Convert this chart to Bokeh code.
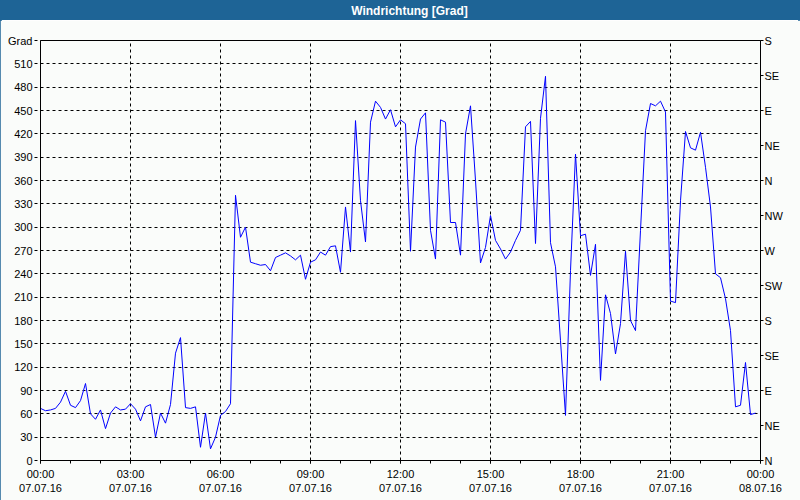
from bokeh.plotting import figure
from bokeh.layouts import column
from bokeh.models import (FixedTicker, LinearAxis, ColumnDataSource, Range1d)
from bokeh.core.properties import value
from bokeh.embed import file_html
from bokeh.resources import INLINE

# ---- data ----
title_text = "Windrichtung [Grad]"
y_unit = "Grad"
start_hour = 0.0
step_minutes = 10
wind_dir = [
    67, 64, 65, 67, 75, 89, 71, 68, 77, 99, 60, 53, 65, 41, 61, 69, 65, 66,
    73, 66, 51, 69, 72, 30, 61, 48, 72, 138, 158, 68, 67, 69, 17, 61, 15, 30,
    58, 63, 73, 341, 287, 300, 255, 253, 251, 252, 244, 261, 264, 267, 263, 258,
    264, 233, 255, 258, 268, 264, 275, 276, 242, 326, 268, 437, 334, 281, 435, 462,
    454, 439, 451, 429, 438, 433, 269, 403, 439, 447, 296, 259, 438, 435, 306, 306,
    264, 420, 456, 360, 254, 274, 315, 283, 272, 259, 268, 283, 296, 429, 436, 279,
    440, 494, 280, 249, 154, 58, 244, 394, 289, 291, 238, 278, 103, 213, 189, 137,
    176, 269, 180, 167, 296, 424, 459, 456, 462, 448, 205, 203, 334, 423, 402, 399,
    422, 377, 326, 240, 235, 208, 167, 69, 71, 126, 59, 61,
]
x_ticks = [0, 3, 6, 9, 12, 15, 18, 21, 24]
x_labels = ["00:00\n07.07.16", "03:00\n07.07.16", "06:00\n07.07.16", "09:00\n07.07.16",
            "12:00\n07.07.16", "15:00\n07.07.16", "18:00\n07.07.16", "21:00\n07.07.16",
            "00:00\n08.07.16"]
left_ticks = list(range(0, 511, 30))
right_ticks = list(range(0, 541, 45))
right_labels = ["N", "NE", "E", "SE", "S", "SW", "W", "NW", "N", "NE", "E", "SE", "S"]
y_max = 540

hours = [start_hour + i * step_minutes / 60.0 for i in range(len(wind_dir))]
src = ColumnDataSource(dict(x=hours, y=wind_dir))

BG = "#fafcfa"
BLUE_BAR = "#1e6496"
FONT = "Liberation Sans"
W = 800

# ---- title bar ----
tb = figure(width=W, height=20, output_backend="svg", toolbar_location=None,
            x_range=Range1d(0, W), y_range=Range1d(0, 20),
            min_border=0, x_axis_location=None, y_axis_location=None)
if "frame_align" in tb.properties():
    tb.frame_align = False
tb.background_fill_color = BLUE_BAR
tb.border_fill_color = BLUE_BAR
tb.outline_line_color = None
tb.grid.visible = False
tb.text(x=[409], y=[10], text=[title_text], text_align="center", text_baseline="middle",
        text_color="white", text_font=value(FONT), text_font_size="12px",
        text_font_style="bold")

# ---- main chart ----
p = figure(width=W, height=480, output_backend="svg", toolbar_location=None,
           x_range=Range1d(0, 24), y_range=Range1d(0, y_max),
           min_border_left=40, min_border_right=40, min_border_top=20, min_border_bottom=40,
           x_axis_location=None, y_axis_location=None)
if "frame_align" in p.properties():
    p.frame_align = False
p.background_fill_color = BG
p.border_fill_color = BG
p.outline_line_color = "black"
p.outline_line_width = 1

p.line("x", "y", source=src, line_color="#0000ff", line_width=1)

xa = LinearAxis(ticker=FixedTicker(ticks=x_ticks, minor_ticks=list(range(25))))
xa.major_label_overrides = {t: l for t, l in zip(x_ticks, x_labels)}
ya = LinearAxis(ticker=FixedTicker(ticks=left_ticks + [y_max]))
ya.major_label_overrides = {y_max: y_unit}
yr = LinearAxis(ticker=FixedTicker(ticks=right_ticks))
yr.major_label_overrides = {t: l for t, l in zip(right_ticks, right_labels)}
for ax in (xa, ya, yr):
    ax.axis_line_color = "black"
    ax.major_tick_line_color = "black"
    ax.minor_tick_line_color = "black"
    ax.major_tick_in = 0
    ax.minor_tick_in = 0
    ax.major_label_text_font = FONT
    ax.major_label_text_font_size = "11px"
    ax.major_label_text_color = "black"
xa.major_tick_out = 3
xa.minor_tick_out = 3
xa.major_label_standoff = 4
ya.major_tick_out = 6
ya.minor_tick_out = 0
ya.major_label_standoff = 2
ya.major_tick_line_dash = "3 3"
yr.major_tick_out = 3
yr.minor_tick_out = 0
yr.major_label_standoff = 1
p.add_layout(xa, "below")
p.add_layout(ya, "left")
p.add_layout(yr, "right")

p.xgrid.ticker = FixedTicker(ticks=x_ticks)
p.ygrid.ticker = FixedTicker(ticks=left_ticks)
for g in (p.xgrid, p.ygrid):
    g.grid_line_color = "black"
    g.grid_line_dash = "3 3"
    g.grid_line_width = 1

layout = column(tb, p, spacing=0,
                styles={"outline": "2px solid " + BLUE_BAR, "outline-offset": "-2px"})
open("out.html", "w").write(file_html(layout, INLINE))
